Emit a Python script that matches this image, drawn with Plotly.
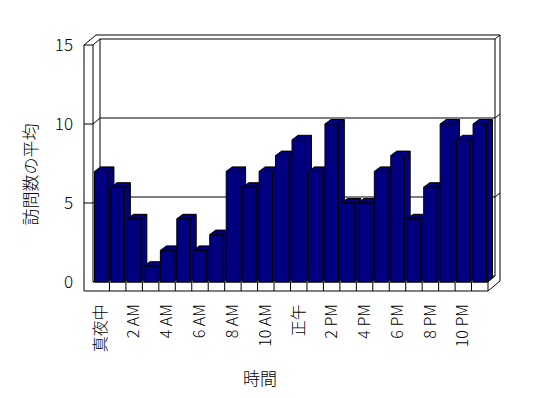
import plotly.graph_objects as go

# ---- data ----
hours = ["真夜中"] + [f"{h} AM" for h in range(1, 12)] + ["正午"] + [f"{h} PM" for h in range(1, 12)]
visits = [7, 6, 4, 1, 2, 4, 2, 3, 7, 6, 7, 8, 9, 7, 10, 5, 5, 7, 8, 4, 6, 10, 9, 10]
tick_labels = ["真夜中", "2 AM", "4 AM", "6 AM", "8 AM", "10 AM", "正午",
               "2 PM", "4 PM", "6 PM", "8 PM", "10 PM"]
y_ticks = [0, 5, 10, 15]
x_title = "時間"
y_title = "訪問数の平均"

# ---- layout geometry (pixels) ----
W, H = 548, 398
ML, MR, MT, MB = 83, 46, 33, 106
front_left_px, front_right_px = 93, 488
zero_px, top_px = 282, 45
n = len(hours)
UX = (front_right_px - front_left_px) / n
UY = (zero_px - top_px) / 15.0
pw, ph = W - ML - MR, H - MT - MB
x0 = -0.5 - (front_left_px - ML) / UX
x1 = x0 + pw / UX
y0 = -((MT + ph) - zero_px) / UY
y1 = y0 + ph / UY

NAVY = "#000080"
X0, XR = -0.5, n - 0.5
t, tf = 9 / UX, 9 / UY           # wall / floor thickness
IX, IY = 7 / UX, 6 / UY          # inner depth
OX, OY = 12 / UX, 10 / UY        # outer depth
BX, BY = 6 / UX, 4.5 / UY        # bar depth
BW = 13.4 / UX                   # bar width
YTOP = 15


def path(points_list):
    s = ""
    for pts in points_list:
        s += "M " + " L ".join(f"{x},{y}" for x, y in pts) + " "
    return s


shapes = []
outer = [(X0 - t, -tf), (XR, -tf), (XR + OX, -tf + OY), (XR + OX, YTOP + OY),
         (X0 - t + OX, YTOP + OY), (X0 - t, YTOP)]
shapes.append(dict(type="path", xref="x", yref="y", layer="below",
                   path=path([outer]) + "Z", fillcolor="white",
                   line=dict(color="black", width=1)))
lines = []
lines.append([(X0 - t, YTOP), (X0, YTOP), (X0, 0), (XR, 0), (XR, -tf)])
lines.append([(X0, YTOP), (X0 + IX, YTOP + IY), (XR + IX, YTOP + IY), (XR + IX, IY),
              (X0 + IX, IY), (X0 + IX, YTOP + IY)])
lines.append([(XR + IX, YTOP + IY), (XR + OX, YTOP + OY)])
lines.append([(X0, 0), (X0 + IX, IY)])
lines.append([(XR, 0), (XR + IX, IY)])
for v in y_ticks[1:-1]:
    lines.append([(X0 - t, v), (X0, v), (X0 + IX, v + IY), (XR + IX, v + IY), (XR + OX, v + OY)])
for k in range(1, n):
    lines.append([(X0 + k, -tf), (X0 + k, 0)])
shapes.append(dict(type="path", xref="x", yref="y", layer="below",
                   path=path(lines), line=dict(color="black", width=1)))

fig = go.Figure()
xs = list(range(n))
for i, v in zip(xs, visits):
    L, R = i - BW / 2, i + BW / 2
    px_ = [L, L + BX, R + BX, R + BX, R, R, L, None, R, R + BX]
    py_ = [v, v + BY, v + BY, BY, 0, v, v, None, v, v + BY]
    fig.add_trace(go.Scatter(x=px_, y=py_, mode="lines", fill="toself",
                             fillcolor=NAVY, line=dict(color="black", width=1),
                             hoverinfo="skip", showlegend=False))

fig.add_trace(go.Bar(x=xs, y=visits, width=BW, xaxis="x2", yaxis="y2",
                     marker=dict(color=NAVY, line=dict(color="black", width=1)),
                     showlegend=False))

tickvals = [i for i, h in enumerate(hours) if h in tick_labels]
font = dict(family="Noto Sans CJK JP", color="black", weight=300)

fig.update_layout(
    width=W, height=H,
    margin=dict(l=ML, r=MR, t=MT, b=MB),
    paper_bgcolor="white", plot_bgcolor="white",
    shapes=shapes,
    font=font,
    xaxis=dict(range=[x0, x1], showgrid=False, zeroline=False, showline=False,
               tickvals=tickvals, ticktext=[hours[i] for i in tickvals],
               tickangle=-90, ticks="", ticklabelstandoff=8,
               tickfont=dict(size=16, **font)),
    yaxis=dict(range=[y0, y1], showgrid=False, zeroline=False, showline=False,
               tickvals=y_ticks, ticktext=[str(v) for v in y_ticks], ticks="",
               ticklabelstandoff=9, tickfont=dict(size=17, **font)),
    xaxis2=dict(range=[x0, x1], overlaying="x", visible=False),
    yaxis2=dict(range=[y0, y1], overlaying="y", visible=False),
    annotations=[
        dict(text=x_title, xref="paper", yref="paper",
             x=(260 - ML) / pw, y=(MT + ph - 377) / ph, showarrow=False,
             font=dict(size=17, **font), xanchor="center", yanchor="middle"),
        dict(text=y_title, xref="paper", yref="paper", textangle=-90,
             x=(28.5 - ML) / pw, y=(MT + ph - 175) / ph, showarrow=False,
             font=dict(size=17, **font), xanchor="center", yanchor="middle"),
    ],
)

fig.write_html("out.html")
